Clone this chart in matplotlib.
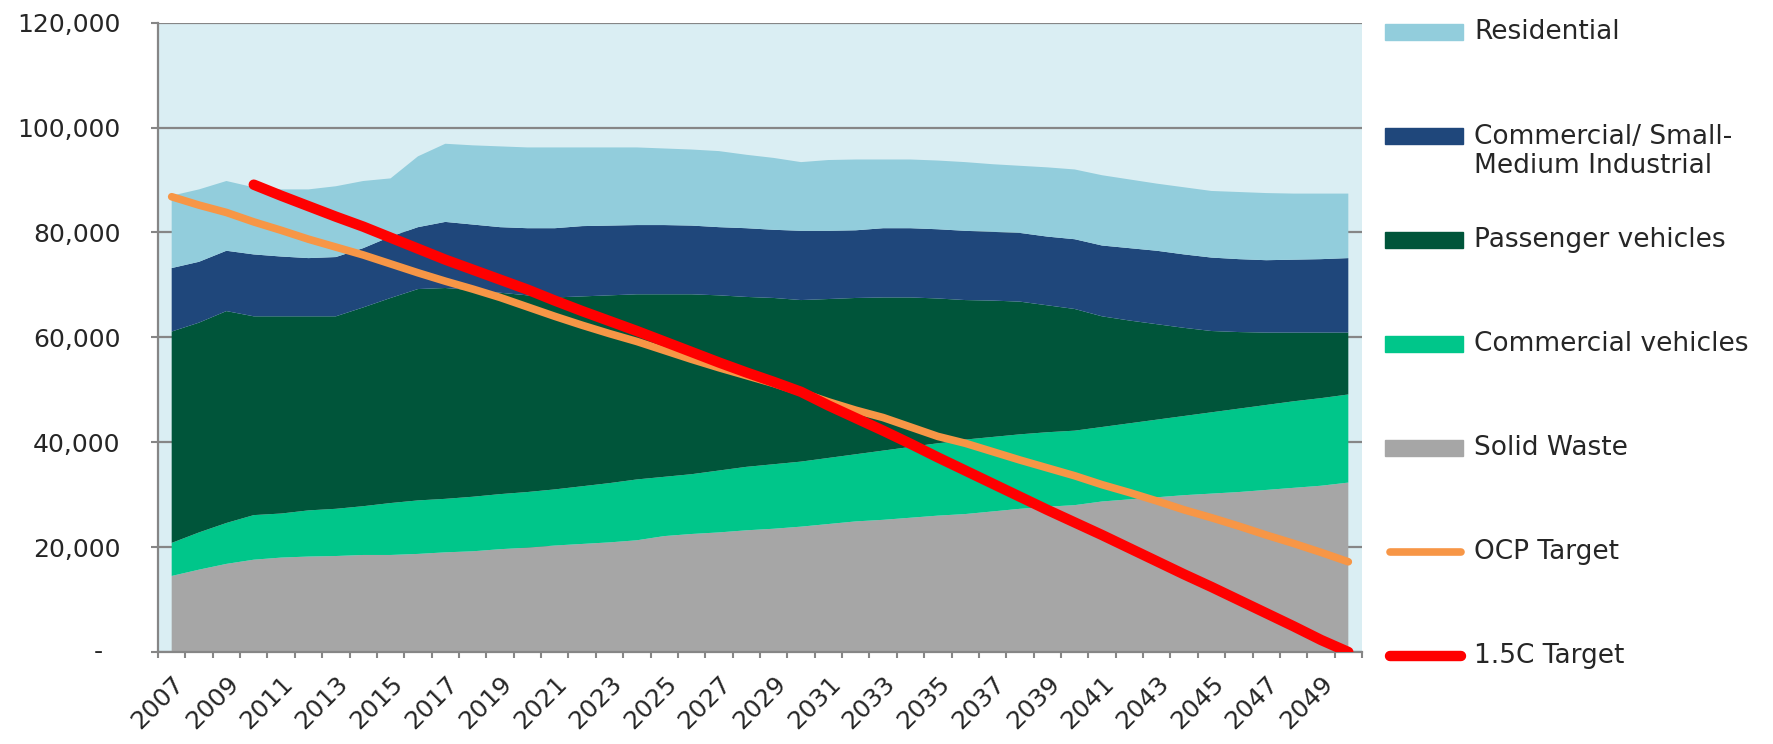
#!/usr/bin/env python3
"""
Stacked emissions by sector vs OCP and 1.5C reduction targets, 2007-2050.
"""

import numpy as np
import matplotlib

matplotlib.use("Agg")
import matplotlib.pyplot as plt
from matplotlib.patches import Rectangle
from matplotlib.ticker import FixedLocator, FuncFormatter, NullFormatter

years = list(range(2007, 2051))

# tCO2e by sector (stacked bottom -> top)
solid_waste = [
    14500, 15700, 16800, 17600, 18000, 18200, 18300, 18500, 18500, 18700,
    19000, 19200, 19600, 19900, 20300, 20600, 20900, 21300, 22100, 22500,
    22800, 23200, 23500, 23900, 24400, 24900, 25200, 25600, 26000, 26300,
    26800, 27300, 27700, 28000, 28700, 29100, 29500, 29900, 30200, 30500,
    30900, 31300, 31700, 32300,
]
commercial_vehicles = [
    6300, 7100, 7800, 8500, 8400, 8800, 9000, 9300, 9900, 10200,
    10200, 10400, 10500, 10600, 10700, 11000, 11300, 11600, 11300, 11400,
    11800, 12100, 12300, 12400, 12600, 12800, 13200, 13500, 13800, 14200,
    14200, 14200, 14200, 14200, 14200, 14500, 14800, 15100, 15500, 15900,
    16200, 16500, 16700, 16800,
]
passenger_vehicles = [
    40300, 40000, 40400, 37900, 37600, 37000, 36700, 37900, 39100, 40300,
    40200, 39400, 38400, 37500, 36600, 36200, 35800, 35300, 34800, 34300,
    33400, 32400, 31700, 30800, 30300, 29800, 29200, 28500, 27600, 26600,
    26000, 25300, 24200, 23200, 21100, 19600, 18200, 16800, 15500, 14600,
    13800, 13100, 12500, 11800,
]
commercial_smi = [
    12100, 11600, 11500, 11800, 11400, 11100, 11300, 11300, 11700, 11800,
    12600, 12500, 12500, 12800, 13200, 13400, 13300, 13200, 13200, 13100,
    13000, 13100, 13000, 13200, 13000, 12900, 13200, 13200, 13200, 13200,
    13100, 13100, 13100, 13300, 13500, 13800, 14000, 14000, 14000, 13900,
    13800, 13900, 14000, 14200,
]
residential = [
    13800, 13800, 13300, 12800, 12800, 13100, 13500, 12800, 11100, 13500,
    14900, 15100, 15400, 15400, 15400, 15000, 14900, 14800, 14600, 14500,
    14500, 14000, 13700, 13100, 13500, 13500, 13100, 13100, 13100, 13100,
    12900, 12800, 13200, 13300, 13400, 13100, 12800, 12800, 12700, 12800,
    12800, 12600, 12500, 12300,
]

ocp_target = [
    86800, 85200, 83800, 82000, 80400, 78700, 77200, 75700, 74000, 72300,
    70700, 69200, 67600, 65800, 64000, 62300, 60700, 59200, 57500, 55800,
    54200, 52700, 51200, 49500, 47700, 46100, 44700, 42900, 41100, 39800,
    38200, 36600, 35100, 33600, 31900, 30400, 28800, 27100, 25600, 24000,
    22300, 20700, 19000, 17200,
]
target_15c = [
    np.nan, np.nan, np.nan, 89100, 87000, 85000, 83000, 81100, 79000, 76900,
    74800, 72900, 71000, 69100, 67000, 65000, 63100, 61200, 59200, 57200,
    55200, 53300, 51500, 49600, 47000, 44600, 42200, 39700, 37100, 34600,
    32100, 29600, 27100, 24700, 22300, 19800, 17300, 14800, 12400, 9900,
    7400, 4900, 2300, 0,
]

area_colors = ["#a6a6a6", "#00c68a", "#00553a", "#1f477b", "#92cddc"]
OCP_COLOR = "#f79646"
RED = "#ff0000"
GRID = "#868686"
TEXT = "#262626"


def main() -> None:
    fig = plt.figure(figsize=(17.73, 7.44), dpi=100)
    ax = fig.add_axes([158 / 1773, 1 - 652 / 744, 1204 / 1773, 629.4 / 744])
    ax.set_facecolor("#daeef3")

    x = np.array(years, dtype=float)
    ax.stackplot(
        x,
        solid_waste,
        commercial_vehicles,
        passenger_vehicles,
        commercial_smi,
        residential,
        colors=area_colors,
        linewidth=0,
        zorder=2,
    )
    ax.plot(x, ocp_target, color=OCP_COLOR, lw=5.5, solid_capstyle="round", zorder=3)
    ax.plot(x, target_15c, color=RED, lw=7.5, solid_capstyle="round", zorder=4)

    ax.set_xlim(years[0] - 0.5, years[-1] + 0.5)
    ax.set_ylim(0, 120000)

    # y axis; zero shows as an accounting dash, set in from the other labels
    ax.yaxis.set_major_locator(FixedLocator(np.arange(0, 120001, 20000)))
    ax.yaxis.set_major_formatter(
        FuncFormatter(lambda v, _: "" if v == 0 else f"{v:,.0f}")
    )
    ax.annotate("-", xy=(0, 0), xycoords=("axes fraction", "data"),
                xytext=(-55, 0), textcoords="offset pixels",
                ha="right", va="center", fontsize=18, color=TEXT)
    ax.yaxis.grid(True, color=GRID, lw=1.6)
    ax.set_axisbelow(True)
    ax.tick_params(axis="y", length=5, width=1.5, color=GRID, direction="out",
                   labelsize=18, labelcolor=TEXT, pad=22)

    # x axis: ticks on category boundaries, labels on every other year
    ax.xaxis.set_major_locator(FixedLocator(np.arange(years[0] - 0.5, years[-1] + 1, 1.0)))
    ax.xaxis.set_major_formatter(NullFormatter())
    label_years = years[::2]
    ax.set_xticks(label_years, [str(y) for y in label_years], minor=True,
                  rotation=45, ha="right", va="top", rotation_mode="anchor")
    ax.tick_params(axis="x", which="major", length=4.5, width=1.5, color=GRID, direction="out")
    ax.tick_params(axis="x", which="minor", length=0, labelsize=18, labelcolor=TEXT, pad=14)

    for side in ("top", "right"):
        ax.spines[side].set_visible(False)
    for side in ("left", "bottom"):
        ax.spines[side].set_color(GRID)
        ax.spines[side].set_linewidth(1.6)

    # legend drawn by hand, Excel style: evenly spaced entries on the right
    entries = [
        ("Residential", area_colors[4], "area"),
        ("Commercial/ Small-\nMedium Industrial", area_colors[3], "area"),
        ("Passenger vehicles", area_colors[2], "area"),
        ("Commercial vehicles", area_colors[1], "area"),
        ("Solid Waste", area_colors[0], "area"),
        ("OCP Target", OCP_COLOR, "line"),
        ("1.5C Target", RED, "line"),
    ]
    y0, step = 0.985, 0.1652
    sw_left, sw_right, txt_x = 1.019, 1.084, 1.093
    for i, (label, color, kind) in enumerate(entries):
        yy = y0 - i * step
        if kind == "area":
            ax.add_patch(Rectangle((sw_left, yy - 0.012), sw_right - sw_left, 0.024,
                                   transform=ax.transAxes, color=color, clip_on=False))
        else:
            lw = 5.5 if color == OCP_COLOR else 7.5
            ax.plot([sw_left + 0.004, sw_right - 0.002], [yy, yy], transform=ax.transAxes,
                    color=color, lw=lw, solid_capstyle="round", clip_on=False)
        n_lines = label.count("\n") + 1
        ty = yy - (n_lines - 1) * 0.0252
        ax.text(txt_x, ty, label, transform=ax.transAxes, ha="left", va="center",
                fontsize=19, color=TEXT, linespacing=1.15)

    fig.savefig("out.png", dpi=100)
    plt.close(fig)


if __name__ == "__main__":
    main()
